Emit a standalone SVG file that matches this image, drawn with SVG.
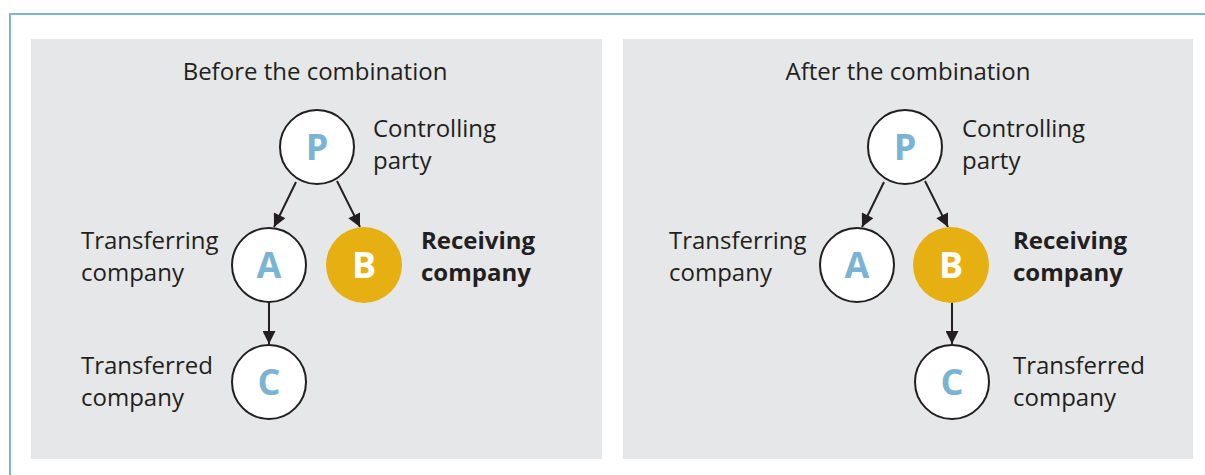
<svg xmlns="http://www.w3.org/2000/svg" width="1205" height="475" viewBox="0 0 1205 475">
<style>
.panel{fill:#e6e7e8}
.node{fill:#fff;stroke:#231f20;stroke-width:2}
.nodeB{fill:#e6b012;stroke:none}
.letter{font-family:"Open Sans",sans-serif;font-weight:700;font-size:36px;fill:#7ab3d3;text-anchor:middle}
.letterB{fill:#fff}
.lbl{font-family:"Open Sans",sans-serif;font-size:24px;fill:#231f20}
.bold{font-weight:700}
.title{text-anchor:middle}
.conn{stroke:#231f20;stroke-width:2;fill:none;marker-end:url(#arr)}
</style>
<defs>
<marker id="arr" viewBox="0 0 10 10" refX="10" refY="5" markerWidth="14" markerHeight="13" markerUnits="userSpaceOnUse" orient="auto">
<path d="M0,0 L10,5 L0,10 z" fill="#231f20"/>
</marker>
</defs>
<rect x="10" y="14" width="1300" height="500" fill="#fff" stroke="#7fb3d3" stroke-width="2"/>
<rect class="panel" x="31" y="39" width="571" height="420"/>
<rect class="panel" x="623" y="39" width="570" height="420"/>
<text class="lbl title" x="315" y="80">Before the combination</text>
<text class="lbl title" x="908" y="80">After the combination</text>
<g id="connectors">
<line class="conn" x1="296" y1="182" x2="274" y2="227"/>
<line class="conn" x1="337" y1="181" x2="360" y2="227"/>
<line class="conn" x1="269" y1="302" x2="269" y2="344"/>
<line class="conn" x1="884" y1="182" x2="862" y2="227"/>
<line class="conn" x1="925" y1="181" x2="948" y2="227"/>
<line class="conn" x1="952" y1="302" x2="952" y2="344"/>
</g>
<g id="L_P"><circle class="node" cx="317" cy="147" r="37"/><text class="letter" x="317" y="160">P</text>
<text class="lbl" x="373" y="137">Controlling</text><text class="lbl" x="373" y="169">party</text></g>
<g id="L_A"><circle class="node" cx="269" cy="265" r="37"/><text class="letter" x="269" y="278">A</text>
<text class="lbl" x="81" y="249">Transferring</text><text class="lbl" x="81" y="281">company</text></g>
<g id="L_B"><circle class="nodeB" cx="364" cy="265" r="38"/><text class="letter letterB" x="364" y="278">B</text>
<text class="lbl bold" x="421" y="249">Receiving</text><text class="lbl bold" x="421" y="281">company</text></g>
<g id="L_C"><circle class="node" cx="269" cy="382" r="37"/><text class="letter" x="269" y="395">C</text>
<text class="lbl" x="81" y="374">Transferred</text><text class="lbl" x="81" y="406">company</text></g>
<g id="R_P"><circle class="node" cx="905" cy="147" r="37"/><text class="letter" x="905" y="160">P</text>
<text class="lbl" x="962" y="137">Controlling</text><text class="lbl" x="962" y="169">party</text></g>
<g id="R_A"><circle class="node" cx="857" cy="265" r="37"/><text class="letter" x="857" y="278">A</text>
<text class="lbl" x="669" y="249">Transferring</text><text class="lbl" x="669" y="281">company</text></g>
<g id="R_B"><circle class="nodeB" cx="951" cy="265" r="38"/><text class="letter letterB" x="951" y="278">B</text>
<text class="lbl bold" x="1013" y="249">Receiving</text><text class="lbl bold" x="1013" y="281">company</text></g>
<g id="R_C"><circle class="node" cx="952" cy="382" r="37"/><text class="letter" x="952" y="395">C</text>
<text class="lbl" x="1013" y="374">Transferred</text><text class="lbl" x="1013" y="406">company</text></g>
</svg>
